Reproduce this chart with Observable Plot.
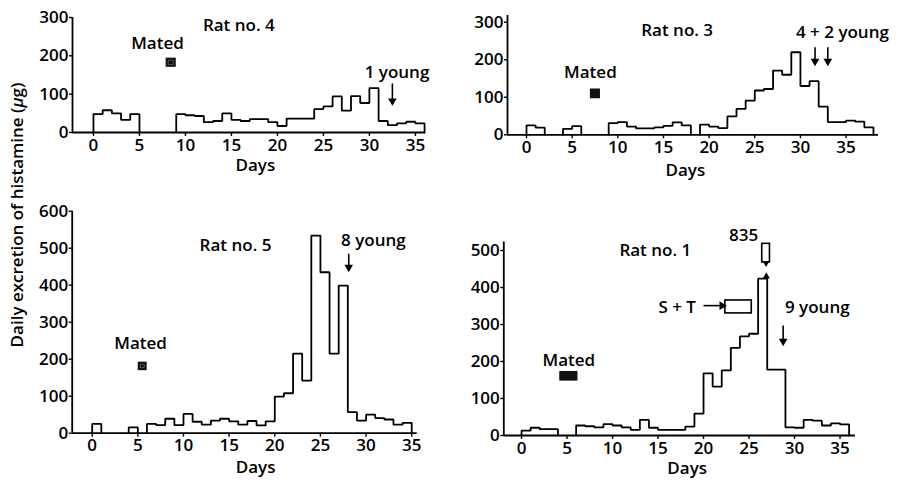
<!DOCTYPE html>
<html><head><meta charset="utf-8">
<script src="https://cdn.jsdelivr.net/npm/d3@7"></script>
<script src="https://cdn.jsdelivr.net/npm/@observablehq/plot@0.6"></script>
<style>
body{margin:0;background:#fff;}
#chart{position:relative;width:904px;height:483px;overflow:hidden;font-family:"Open Sans","DejaVu Sans",sans-serif;color:#000;}
#chart svg{position:absolute;overflow:visible;}
#ylab{position:absolute;left:16px;top:215px;transform:translate(-50%,-50%) rotate(-90deg);white-space:nowrap;font-size:17px;font-weight:600;}
</style></head><body>
<div id="chart"><div id="ylab">Daily excretion of histamine (<i>μ</i>g)</div></div>
<script>
// ---- data: daily histamine excretion (μg), index = day, null = no sample ----
const rat4 = [48,58,50,33,48,null,null,null,null,48,45,43,27,30,50,33,30,35,35,27,17,36,36,36,61,68,94,57,95,77,116,30,19,24,28,24];
const rat3 = [25,19,null,null,16,23,null,null,null,31,34,22,17,17,20,24,33,25,null,27,22,18,49,69,91,118,122,171,160,220,130,143,75,34,34,38,35,20];
const rat5 = [25,null,null,null,16,null,25,22,39,22,52,31,23,34,39,32,23,33,21,32,99,108,215,142,534,435,215,399,57,34,50,41,37,23,28];
const rat1 = [13,21,17,17,null,null,27,25,22,31,27,22,15,42,21,15,15,15,24,59,168,132,176,237,268,275,424,178,178,22,21,42,40,27,33,30];

const xTicks = [0,5,10,15,20,25,30,35];
const yTicks300 = [0,100,200,300];
const yTicks600 = [0,100,200,300,400,500,600];
const yTicks500 = [0,100,200,300,400,500];

// titles / annotations (day, value)
const labels4 = [{x:15.8,y:279,t:"Rat no. 4"},{x:6.96,y:232,t:"Mated"},{x:33.0,y:157,t:"1 young"}];
const labels3 = [{x:16.5,y:278,t:"Rat no. 3"},{x:7.0,y:166,t:"Mated"},{x:34.6,y:273,t:"4 + 2 young"}];
const labels5 = [{x:15.7,y:507,t:"Rat no. 5"},{x:5.3,y:242,t:"Mated"},{x:30.8,y:521,t:"8 young"}];
const labels1 = [{x:14.7,y:500,t:"Rat no. 1"},{x:5.2,y:203,t:"Mated"},{x:32.5,y:347,t:"9 young"},{x:17.1,y:347,t:"S + T"},{x:24.4,y:540,t:"835"}];

const arrows4 = [{x:32.5,y1:128,y2:76}];
const arrows3 = [{x:31.6,y1:233,y2:189},{x:33.0,y1:233,y2:189}];
const arrows5 = [{x:28.1,y1:485,y2:442}];
const arrows1 = [{x:28.75,y1:297,y2:248}];

const mated4 = [{x1:7.9,x2:9.0,y1:170,y2:194}];
const mated3 = [{x1:7.0,x2:8.1,y1:96,y2:122}];
const mated5 = [{x1:5.04,x2:6.02,y1:169,y2:192}];
const mated1 = [{x1:4.2,x2:6.2,y1:147,y2:173}];

const stBox = [{x1:22.4,x2:25.3,y1:330,y2:365}];
const breakBox = [{x1:26.45,x2:27.3,y1:468,y2:518}];

function outline(values){
  const runs=[]; let cur=null;
  values.forEach((v,d)=>{ if(v==null){ if(cur){runs.push(cur);cur=null;} return;} if(!cur)cur=[]; cur.push([d,v]); });
  if(cur) runs.push(cur);
  const pts=[];
  runs.forEach((run,i)=>{
    pts.push({x:run[0][0],y:0,g:i});
    run.forEach(([d,v])=>{pts.push({x:d,y:v,g:i});pts.push({x:d+1,y:v,g:i});});
    pts.push({x:run[run.length-1][0]+1,y:0,g:i});
  });
  return pts;
}

const FONT = "Open Sans, DejaVu Sans, sans-serif";
const txt = {fontSize:17, fontWeight:600, fill:"black", fontFamily:FONT};

function panel(c){
  const marks = [
    Plot.ruleY([0],{x1:c.xDomain[0],x2:c.xDomain[1],stroke:"black",strokeWidth:1.8}),
    Plot.ruleX([c.xDomain[0]],{y1:0,y2:c.yTop,stroke:"black",strokeWidth:1.8}),
    Plot.axisX({ticks:xTicks,tickSize:4,tickPadding:2,label:null,strokeWidth:1.4,...txt}),
    Plot.axisY({ticks:c.yTicks,tickSize:3,tickPadding:1,label:null,strokeWidth:1.4,...txt}),
    Plot.line(outline(c.values),{x:"x",y:"y",z:"g",stroke:"black",strokeWidth:1.8,strokeLinejoin:"miter"}),
    Plot.text(c.labels,{x:"x",y:"y",text:"t",...txt}),
    Plot.text([{x:c.daysX,t:"Days"}],{x:"x",text:"t",frameAnchor:"bottom",dy:c.daysDy,...txt}),
    Plot.rect(c.mated,{x1:"x1",x2:"x2",y1:"y1",y2:"y2",fill:"#111"}),
    Plot.link(c.arrows,{x1:"x",x2:"x",y1:"y1",y2:"y2",stroke:"black",strokeWidth:1.6}),
    Plot.dot(c.arrows,{x:"x",y:"y2",symbol:"triangle",r:3.2,rotate:180,fill:"black",stroke:"none",dy:-2.5})
  ];
  if(c.matedPattern) marks.push(Plot.rect(c.mated,{x1:"x1",x2:"x2",y1:"y1",y2:"y2",inset:2.5,fill:"none",stroke:"#666",strokeWidth:0.7}));
  if(c.extra) marks.push(...c.extra);
  const svg = Plot.plot({
    width:c.width,height:c.height,
    marginLeft:c.ml,marginRight:c.mr,marginTop:c.mt,marginBottom:c.mb,
    x:{domain:c.xDomain},y:{domain:c.yDomain},
    style:{fontFamily:FONT,fontSize:"17px",background:"transparent",overflow:"visible"},
    marks
  });
  svg.style.left=c.left+"px"; svg.style.top=c.top+"px";
  document.getElementById("chart").appendChild(svg);
}

panel({left:0,top:0,width:450,height:190,ml:72,mr:25,mt:17,mb:58,xDomain:[-2.28,36.1],yDomain:[0,300],yTop:300,yTicks:yTicks300,
  values:rat4,labels:labels4,arrows:arrows4,mated:mated4,matedPattern:true,daysX:17.6,daysDy:38});
panel({left:450,top:0,width:454,height:190,ml:57,mr:26,mt:21.7,mb:55.7,xDomain:[-2.08,38.55],yDomain:[0,300],yTop:318,yTicks:yTicks300,
  values:rat3,labels:labels3,arrows:arrows3,mated:mated3,daysX:17.4,daysDy:41});
panel({left:0,top:190,width:450,height:293,ml:71.7,mr:33.3,mt:20.7,mb:50.3,xDomain:[-2.19,35.6],yDomain:[0,600],yTop:600,yTicks:yTicks600,
  values:rat5,labels:labels5,arrows:arrows5,mated:mated5,matedPattern:true,daysX:17.9,daysDy:40});
panel({left:450,top:190,width:454,height:293,ml:53.3,mr:49,mt:60,mb:48,xDomain:[-1.95,36.7],yDomain:[0,500],yTop:523,yTicks:yTicks500,
  values:rat1,labels:labels1,arrows:arrows1,mated:mated1,daysX:18.2,daysDy:38,
  extra:[
    Plot.rect(stBox,{x1:"x1",x2:"x2",y1:"y1",y2:"y2",fill:"none",stroke:"black",strokeWidth:1.6}),
    Plot.link([{x1:20.0,x2:22.3,y:351}],{x1:"x1",x2:"x2",y1:"y",y2:"y",stroke:"black",strokeWidth:1.6}),
    Plot.dot([{x:22.3,y:351}],{x:"x",y:"y",symbol:"triangle",r:3.2,rotate:90,fill:"black",stroke:"none",dx:-2.5}),
    Plot.rect(breakBox,{x1:"x1",x2:"x2",y1:"y1",y2:"y2",fill:"white",stroke:"black",strokeWidth:1.6}),
    Plot.dot([{x:26.87,y:466}],{x:"x",y:"y",symbol:"triangle",r:2.6,rotate:180,fill:"black",stroke:"none"}),
    Plot.dot([{x:26.9,y:430}],{x:"x",y:"y",symbol:"triangle",r:2.6,fill:"black",stroke:"none"})
  ]});
</script>
</body></html>
